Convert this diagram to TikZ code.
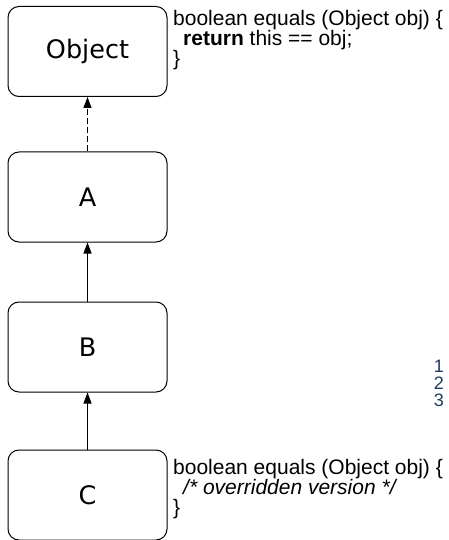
\documentclass[tikz,border=0pt]{standalone}
\usepackage{fontspec}
\setmainfont{Liberation Sans}
\newfontfamily\boxfont{DejaVu Sans}
\usetikzlibrary{arrows.meta}
\definecolor{numblue}{HTML}{1F3A5F}
\begin{document}
\begin{tikzpicture}[x=1pt,y=-1pt,
 cls/.style={draw, line width=1pt, rounded corners=11pt, minimum width=159pt, minimum height=90pt, font=\boxfont\fontsize{25.5}{29}\selectfont, inner sep=0pt},
 inh/.style={-{Triangle[length=11pt,width=8pt]}, line width=1pt},
 code/.style={anchor=north west, align=left, font=\fontsize{21}{20}\selectfont, inner sep=0pt},
 num/.style={font=\fontsize{18}{20}\selectfont, text=numblue, anchor=east, inner sep=0pt}]
\useasboundingbox (0,0) rectangle (448,540);
\node[cls] (obj) at (87.5,51.5) {Object};
\node[cls] (a) at (87.5,197) {A};
\node[cls] (b) at (87.5,347) {B};
\node[cls] (c) at (87.5,495) {C};
\draw[inh, dash pattern=on 6pt off 3pt] (a) -- (obj);
\draw[inh] (b) -- (a);
\draw[inh] (c) -- (b);
\node[code] (t1) at (173,10) {boolean equals (Object obj) \{\\\hspace{10pt}\textbf{return} this == obj;\\\}};
\node[code] (t2) at (173,459) {boolean equals (Object obj) \{\\\hspace{10pt}\textit{/* overridden version */}\\\}};
\node[num] (n1) at (444,366) {1};
\node[num] (n2) at (444,383) {2};
\node[num] (n3) at (444,400) {3};
\end{tikzpicture}
\end{document}
